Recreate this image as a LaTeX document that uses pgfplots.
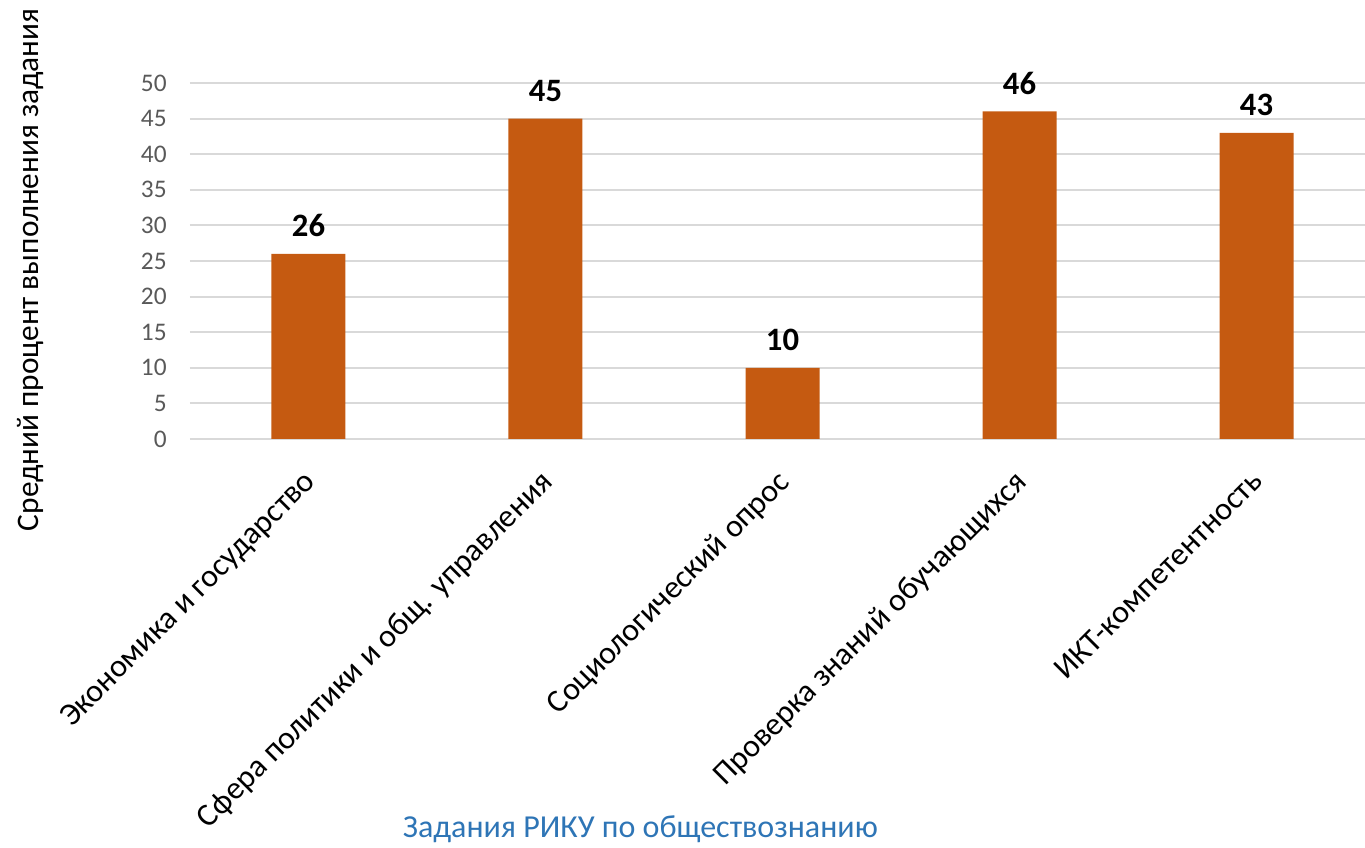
\documentclass[border=0pt]{standalone}
\usepackage{pgfplots}
\pgfplotsset{compat=1.18}
\usepackage{fontspec}
\setmainfont{Carlito}
\definecolor{barc}{HTML}{C55A11}
\definecolor{gridc}{HTML}{D9D9D9}
\definecolor{tickc}{HTML}{595959}
\definecolor{xlabc}{HTML}{2E75B6}
\begin{document}
\begin{tikzpicture}
\begin{axis}[
  name=ax,
  scale only axis,
  width=888.75pt, height=267pt,
  xmin=-0.5, xmax=4.5, ymin=0, ymax=50,
  ytick={0,5,...,50},
  xtick={0,1,2,3,4},
  xticklabels={Экономика и государство,Сфера политики и общ. управления,Социологический опрос,Проверка знаний обучающихся,ИКТ-компетентность},
  xticklabel style={xshift=-5pt, yshift=-19pt, rotate=45, anchor=north east, font=\fontsize{24}{28}\selectfont, text=black, inner sep=2pt},
  yticklabel style={font=\fontsize{19}{22}\selectfont, text=tickc, xshift=-14pt},
  /pgf/number format/assume math mode=true,
  axis line style={draw=none},
  major tick length=0pt,
  ymajorgrids, grid style={gridc, line width=1.5pt},
  xlabel={Задания РИКУ по обществознанию},
  xlabel style={at={(rel axis cs:0.38,0)}, anchor=center, yshift=-293pt, font=\fontsize{24}{28}\selectfont, text=xlabc},
  ylabel={Средний процент выполнения задания},
  ylabel style={at={(rel axis cs:0,0.475)}, anchor=center, yshift=120pt, font=\fontsize{23.5}{28}\selectfont, text=black},
  clip=false,
  ybar, bar width=55.5pt,
  nodes near coords,
  every node near coord/.append style={font=\bfseries\fontsize{24.5}{28}\selectfont, text=black, yshift=9pt},
]
\addplot[fill=barc, draw=none] coordinates {(0,26) (1,45) (2,10) (3,46) (4,43)};
\coordinate (bl) at (rel axis cs:0,0);
\end{axis}
\pgfresetboundingbox
\path (bl) ++(-142.5pt,-306.75pt) rectangle ++(1023.75pt,636pt);
\end{tikzpicture}
\end{document}
